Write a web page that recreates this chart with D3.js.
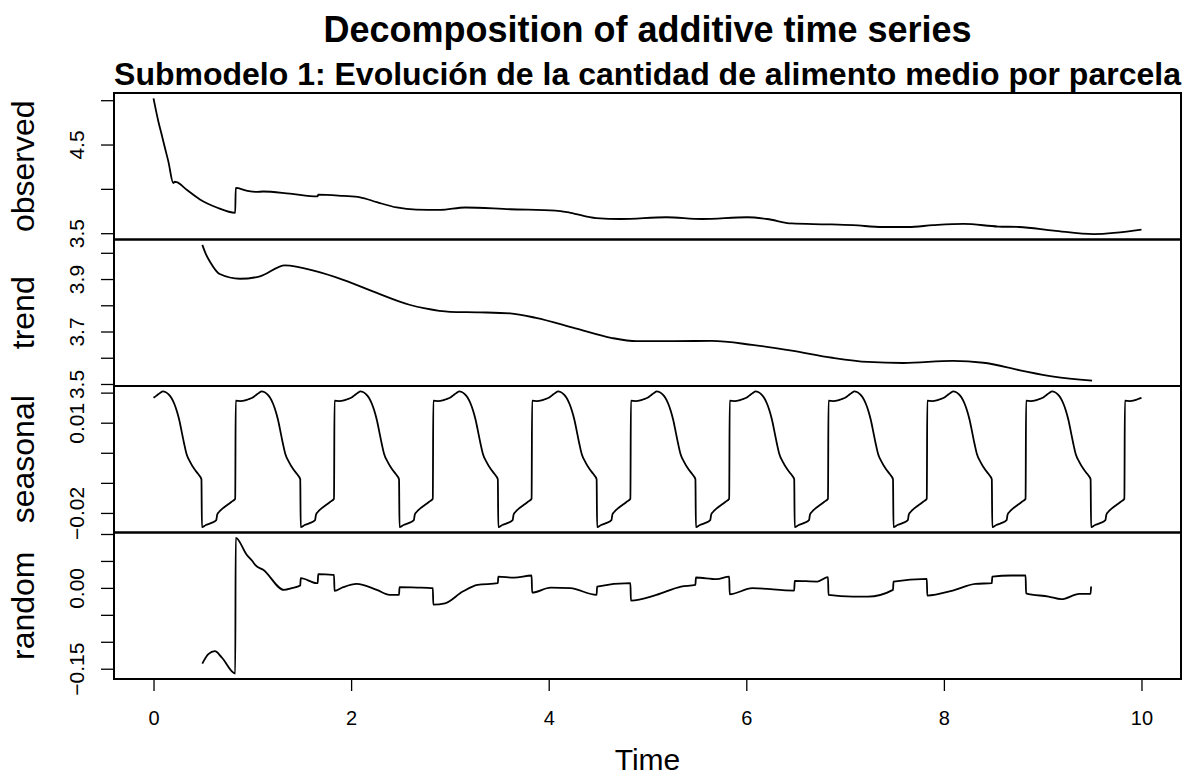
<!DOCTYPE html>
<html>
<head>
<meta charset="utf-8">
<script src="https://cdn.jsdelivr.net/npm/d3@7"></script>
<style>
  body { margin: 0; background: #fff; }
  svg text { font-family: "Liberation Sans", Arial, Helvetica, sans-serif; fill: #000; }
</style>
</head>
<body>
<script>
// observed series
const obsTime = [0, 0.049, 0.083, 0.116, 0.15, 0.2, 0.215, 0.235, 0.336, 0.47, 0.64, 0.827, 0.832, 0.94, 1.04, 1.11,
  1.38, 1.66, 1.667, 1.92, 2.09, 2.26, 2.46, 2.66, 2.9, 3.155, 3.61, 4.07, 4.22, 4.48, 4.73, 5.19, 5.55, 6.01,
  6.21, 6.46, 6.82, 7.08, 7.38, 7.64, 7.89, 8.2, 8.55, 8.76, 9.11, 9.52, 10];
const obsValue = [5.02, 4.76, 4.61, 4.46, 4.31, 4.066, 4.08, 4.075, 3.99, 3.88, 3.79, 3.73, 4.01, 3.98, 3.965, 3.97,
  3.946, 3.916, 3.935, 3.92, 3.905, 3.85, 3.79, 3.766, 3.763, 3.79, 3.77, 3.755, 3.73, 3.67, 3.66, 3.68, 3.66, 3.68,
  3.66, 3.61, 3.6, 3.59, 3.57, 3.57, 3.59, 3.605, 3.575, 3.57, 3.53, 3.49, 3.54];

// trend series
const trendTime = [0.494, 0.53, 0.57, 0.67, 0.875, 1.077, 1.33, 1.65, 1.92, 2.26, 2.59, 2.75, 3.0, 3.3, 3.61, 3.87,
  4.27, 4.63, 4.89, 5.65, 6.06, 6.46, 6.87, 7.23, 7.59, 8.09, 8.4, 8.76, 9.11, 9.5];
const trendValue = [4.03, 3.995, 3.967, 3.919, 3.901, 3.91, 3.952, 3.929, 3.897, 3.847, 3.802, 3.788, 3.775, 3.773,
  3.769, 3.752, 3.712, 3.676, 3.663, 3.664, 3.649, 3.627, 3.6, 3.584, 3.58, 3.588, 3.581, 3.553, 3.528, 3.513];

// seasonal figure (one period, repeated every year by decompose)
const seasonPhase = [0, 0.03, 0.066, 0.095, 0.12, 0.15, 0.18, 0.21, 0.235, 0.26, 0.29, 0.31, 0.335, 0.37, 0.415,
  0.45, 0.485, 0.49, 0.53, 0.58, 0.635, 0.645, 0.665, 0.7, 0.74, 0.79, 0.827, 0.832, 0.88, 0.926, 0.96];
const seasonValue = [0.0183, 0.019, 0.0199, 0.0204, 0.0202, 0.0195, 0.0183, 0.0163, 0.014, 0.011, 0.0062, 0.003,
  -0.0005, -0.003, -0.0055, -0.007, -0.0088, -0.0247, -0.024, -0.0234, -0.0224, -0.0205, -0.0196, -0.0185, -0.0175,
  -0.0163, -0.0153, 0.0173, 0.0172, 0.0174, 0.0178];
const seasonYears = [0, 1, 2, 3, 4, 5, 6, 7, 8, 9];

// random series
const randTime = [0.494, 0.555, 0.622, 0.69, 0.827, 0.832, 0.943, 1.0, 1.034, 1.11, 1.32, 1.4, 1.485, 1.49, 1.65,
  1.662, 1.667, 1.81, 1.827, 1.832, 1.92, 2.055, 2.26, 2.39, 2.485, 2.49, 2.67, 2.827, 2.832, 2.95, 3.13, 3.28,
  3.485, 3.49, 3.65, 3.827, 3.832, 4.02, 4.22, 4.485, 4.49, 4.827, 4.832, 5.09, 5.34, 5.485, 5.49, 5.7, 5.827,
  5.832, 6.06, 6.485, 6.49, 6.72, 6.827, 6.832, 7.08, 7.23, 7.485, 7.49, 7.827, 7.832, 8.09, 8.32, 8.485, 8.49,
  8.68, 8.827, 8.832, 9.06, 9.19, 9.37, 9.485, 9.49];
const randValue = [-0.1405, -0.123, -0.1175, -0.129, -0.159, 0.0927, 0.0616, 0.05, 0.0416, 0.0336, -0.0037, -0.0006,
  0.0043, 0.018, 0.0088, 0.0088, 0.0255, 0.0243, 0.0243, -0.0056, 0.0013, 0.0075, -0.0037, -0.013, -0.013, 0.0013,
  0.0006, -0.0006, -0.031, -0.0286, -0.0068, 0.0056, 0.0087, 0.021, 0.019, 0.023, -0.0087, 0.0006, -0.0006, -0.013,
  0.0025, 0.0087, -0.0236, -0.013, 0.0025, 0.0056, 0.0193, 0.0162, 0.021, -0.0118, -0.0006, -0.005, 0.013, 0.0118,
  0.02, -0.013, -0.0162, -0.0162, -0.0037, 0.0118, 0.0168, -0.0143, -0.005, 0.0075, 0.0087, 0.021, 0.023, 0.023,
  -0.01, -0.0162, -0.021, -0.0112, -0.0112, 0.0025];

// axes
const xTicks = [0, 2, 4, 6, 8, 10];
const obsTicks = [3.5, 4.0, 4.5, 5.0];
const obsLabels = [3.5, 4.5];
const trendTicks = [3.5, 3.6, 3.7, 3.8, 3.9, 4.0];
const trendLabels = [3.5, 3.7, 3.9];
const seasonTicks = [-0.02, -0.01, 0, 0.01, 0.02];
const seasonLabels = [-0.02, 0.01];
const randTicks = [-0.15, -0.1, -0.05, 0, 0.05, 0.1];
const randLabels = [-0.15, 0];

const width = 1185, height = 780;
const margin = {left: 114, right: 4, top: 93, bottom: 101};
const panelH = (height - margin.top - margin.bottom) / 4;

// R style range: 4% extension on each side
const pad = (ext) => {
  const d = (ext[1] - ext[0]) * 0.04;
  return [ext[0] - d, ext[1] + d];
};

const seasonTime = [], seasonSeries = [];
seasonYears.forEach((yr) => {
  seasonPhase.forEach((p, i) => {
    seasonTime.push(yr + p);
    seasonSeries.push(seasonValue[i]);
  });
});
seasonTime.push(10);
seasonSeries.push(seasonValue[0]);

const panels = [
  {name: "observed", t: obsTime, v: obsValue, ticks: obsTicks, labels: obsLabels, fmt: d3.format(".1f")},
  {name: "trend", t: trendTime, v: trendValue, ticks: trendTicks, labels: trendLabels, fmt: d3.format(".1f")},
  {name: "seasonal", t: seasonTime, v: seasonSeries, ticks: seasonTicks, labels: seasonLabels, fmt: d3.format(".2f")},
  {name: "random", t: randTime, v: randValue, ticks: randTicks, labels: randLabels, fmt: d3.format(".2f")}
];

const svg = d3.select("body")
  .append("svg")
  .attr("width", width)
  .attr("height", height);

const x = d3.scaleLinear()
  .domain(pad(d3.extent(obsTime)))
  .range([margin.left, width - margin.right]);

panels.forEach((p, i) => {
  const top = margin.top + i * panelH;
  const y = d3.scaleLinear()
    .domain(pad(d3.extent(p.v)))
    .range([top + panelH, top]);

  const line = d3.line()
    .x((d) => x(d[0]))
    .y((d) => y(d[1]))
    .curve(d3.curveMonotoneX);

  svg.append("path")
    .datum(p.t.map((t, k) => [t, p.v[k]]))
    .attr("fill", "none")
    .attr("stroke", "#000")
    .attr("stroke-width", 1.8)
    .attr("stroke-linejoin", "round")
    .attr("d", line);

  const axis = d3.axisLeft(y)
    .tickValues(p.ticks)
    .tickSize(13)
    .tickFormat((d) => p.labels.includes(d) ? p.fmt(d) : "");

  const g = svg.append("g")
    .attr("transform", "translate(" + margin.left + ",0)")
    .call(axis);
  g.select(".domain").remove();
  g.selectAll(".tick line").attr("stroke", "#000").attr("stroke-width", 1.3);
  g.selectAll(".tick text")
    .attr("transform", "rotate(-90)")
    .attr("x", 0)
    .attr("y", -30.5)
    .attr("dy", 0)
    .style("text-anchor", "middle")
    .style("font-size", "21px");

  svg.append("text")
    .attr("transform", "translate(34," + (top + panelH / 2) + ") rotate(-90)")
    .style("text-anchor", "middle")
    .style("font-size", "32px")
    .text(p.name);

  svg.append("rect")
    .attr("x", margin.left)
    .attr("y", top)
    .attr("width", width - margin.left - margin.right)
    .attr("height", panelH)
    .attr("fill", "none")
    .attr("stroke", "#000")
    .attr("stroke-width", 2);
});

const xAxis = d3.axisBottom(x)
  .tickValues(xTicks)
  .tickSize(12)
  .tickPadding(20)
  .tickFormat(d3.format("d"));

const gx = svg.append("g")
  .attr("transform", "translate(0," + (height - margin.bottom) + ")")
  .call(xAxis);
gx.select(".domain").remove();
gx.selectAll(".tick line").attr("stroke", "#000").attr("stroke-width", 1.3);
gx.selectAll(".tick text").style("font-size", "20px");

const cx = (margin.left + width - margin.right) / 2;

svg.append("text")
  .attr("x", cx)
  .attr("y", 770)
  .style("text-anchor", "middle")
  .style("font-size", "30px")
  .text("Time");

svg.append("text")
  .attr("x", cx)
  .attr("y", 42)
  .style("text-anchor", "middle")
  .style("font-size", "36px")
  .style("font-weight", "bold")
  .text("Decomposition of additive time series");

svg.append("text")
  .attr("x", cx)
  .attr("y", 85)
  .style("text-anchor", "middle")
  .style("font-size", "32px")
  .style("font-weight", "bold")
  .text("Submodelo 1: Evolución de la cantidad de alimento medio por parcela");
</script>
</body>
</html>
